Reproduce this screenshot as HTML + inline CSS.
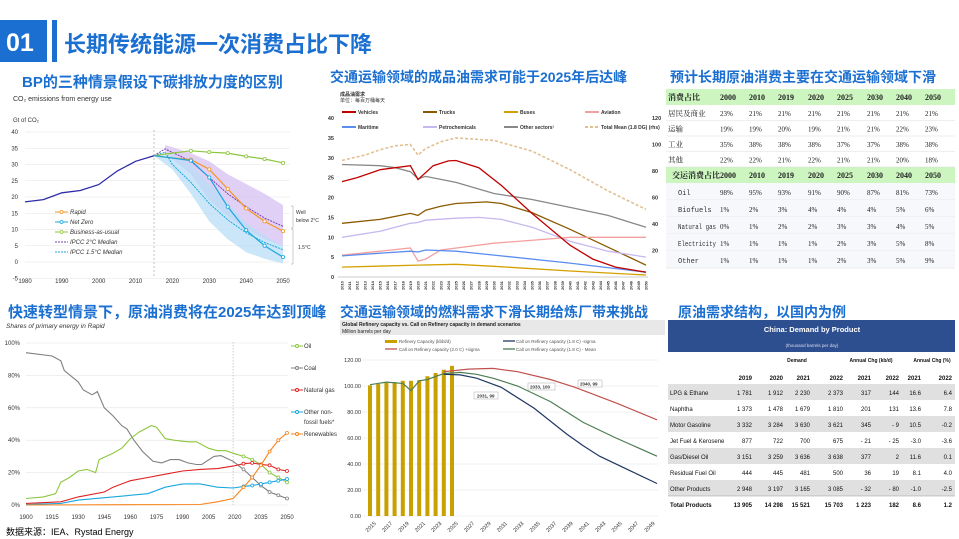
<!DOCTYPE html>
<html><head><meta charset="utf-8">
<style>
body{margin:0;background:#fff;}
svg{display:block;font-family:"Liberation Sans","Noto Sans CJK SC",sans-serif;}
.t{font-weight:bold;fill:#1a6fd0;}
</style></head><body>
<svg id="c" width="959" height="539" viewBox="0 0 959 539" xmlns="http://www.w3.org/2000/svg">
<rect width="959" height="539" fill="#fff"/>
<rect x="0" y="20" width="47" height="42" fill="#1a6fd0"/>
<text x="6" y="51" font-size="25" font-weight="bold" fill="#fff">01</text>
<rect x="52" y="20" width="5" height="42" fill="#1a6fd0"/>
<text x="64" y="52" font-size="22" class="t">长期传统能源一次消费占比下降</text>
<text x="22" y="87" font-size="15" class="t">BP的三种情景假设下碳排放力度的区别</text>
<text x="330" y="82" font-size="14" class="t">交通运输领域的成品油需求可能于2025年后达峰</text>
<text x="670" y="82" font-size="14" class="t">预计长期原油消费主要在交通运输领域下滑</text>
<text x="8" y="317" font-size="15" class="t">快速转型情景下，原油消费将在2025年达到顶峰</text>
<text x="340" y="317" font-size="14" class="t">交通运输领域的燃料需求下滑长期给炼厂带来挑战</text>
<text x="678" y="317" font-size="14" class="t">原油需求结构，以国内为例</text>

<text x="13" y="101" font-size="7" fill="#333">CO₂ emissions from energy use</text>
<text x="13" y="122" font-size="6" fill="#333">Gt of CO₂</text>
<g id="c1grid"></g>
<line x1="154" y1="130" x2="154" y2="278" stroke="#999" stroke-dasharray="2,2" stroke-width="0.6"/>
<g id="c1"></g>
<g font-size="6" font-style="italic" fill="#333">
<line x1="55" y1="212" x2="68" y2="212" stroke="#f7941d"/><circle cx="61.5" cy="212" r="1.5" fill="#fff" stroke="#f7941d" stroke-width="0.8"/><text x="70" y="214">Rapid</text>
<line x1="55" y1="222" x2="68" y2="222" stroke="#1aa7e0"/><circle cx="61.5" cy="222" r="1.5" fill="#fff" stroke="#1aa7e0" stroke-width="0.8"/><text x="70" y="224">Net Zero</text>
<line x1="55" y1="232" x2="68" y2="232" stroke="#8dc63f"/><circle cx="61.5" cy="232" r="1.5" fill="#fff" stroke="#8dc63f" stroke-width="0.8"/><text x="70" y="234">Business-as-usual</text>
<line x1="55" y1="242" x2="68" y2="242" stroke="#7b3fb5" stroke-dasharray="2,1"/><text x="70" y="244">IPCC 2°C Median</text>
<line x1="55" y1="252" x2="68" y2="252" stroke="#1aa7e0" stroke-dasharray="2,1"/><text x="70" y="254">IPCC 1.5°C Median</text>
</g>
<g font-size="5" fill="#333"><text x="296" y="214">Well</text><text x="296" y="222">below 2°C</text><text x="298" y="249">1.5°C</text></g>
<path d="M291 206h2v22h-2M291 229h2v35h-2" fill="none" stroke="#999" stroke-width="0.5"/>

<text x="340" y="96" font-size="5" fill="#333" font-weight="bold">成品油需求</text>
<text x="340" y="102" font-size="5" fill="#333">单位：每百万桶每天</text>
<g id="c2"></g>
<g font-size="5" fill="#333" font-weight="bold">
<line x1="342" y1="112" x2="356" y2="112" stroke="#c00000" stroke-width="2"/><text x="358" y="114">Vehicles</text>
<line x1="423" y1="112" x2="437" y2="112" stroke="#8b5a00" stroke-width="2"/><text x="439" y="114">Trucks</text>
<line x1="504" y1="112" x2="518" y2="112" stroke="#d4a000" stroke-width="2"/><text x="520" y="114">Buses</text>
<line x1="585" y1="112" x2="599" y2="112" stroke="#f4a0a0" stroke-width="2"/><text x="601" y="114">Aviation</text>
<line x1="342" y1="127" x2="356" y2="127" stroke="#5b8def" stroke-width="2"/><text x="358" y="129">Maritime</text>
<line x1="423" y1="127" x2="437" y2="127" stroke="#c8b8f0" stroke-width="2"/><text x="439" y="129">Petrochemicals</text>
<line x1="504" y1="127" x2="518" y2="127" stroke="#888" stroke-width="2"/><text x="520" y="129">Other sectors¹</text>
<line x1="585" y1="127" x2="599" y2="127" stroke="#e0c090" stroke-width="2" stroke-dasharray="3,2"/><text x="601" y="129">Total Mean (1.8 DG) (rhs)</text>
</g>

<g id="t1"></g>

<text x="6" y="328" font-size="6.5" font-style="italic" fill="#333">Shares of primary energy in Rapid</text>
<g id="c3"></g>
<text x="6" y="535" font-size="9" fill="#000">数据来源：IEA、Rystad   Energy</text>

<rect x="340" y="320" width="325" height="15" fill="#e8e8e8"/>
<text x="342" y="326" font-size="5" font-weight="bold" fill="#222">Global Refinery capacity vs. Call on Refinery capacity in demand scenarios</text>
<text x="342" y="333" font-size="5" fill="#222">Million barrels per day</text>
<g id="c4"></g>
<g font-size="4.5" fill="#555">
<rect x="385" y="340" width="12" height="3" fill="#c8a000"/><text x="399" y="343">Refinery Capacity (kbbl/d)</text>
<line x1="503" y1="341" x2="515" y2="341" stroke="#1f3864" stroke-width="1.3"/><text x="516" y="343">Call on Refinery capacity (1.8 C) -sigma</text>
<line x1="385" y1="349" x2="397" y2="349" stroke="#c0504d" stroke-width="1.3"/><text x="399" y="351">Call on Refinery capacity (2.0 C) +sigma</text>
<line x1="503" y1="349" x2="515" y2="349" stroke="#4e7d55" stroke-width="1.3"/><text x="516" y="351">Call on Refinery capacity (1.8 C) - Mean</text>
</g>
<g font-size="4.5" font-weight="bold" fill="#333">
<rect x="474" y="392" width="24" height="7" fill="#fff" stroke="#999" stroke-width="0.4"/><text x="477" y="397.5">2031, 99</text>
<rect x="528" y="383" width="27" height="7" fill="#fff" stroke="#999" stroke-width="0.4"/><text x="530" y="388.5">2033, 100</text>
<rect x="578" y="380" width="24" height="7" fill="#fff" stroke="#999" stroke-width="0.4"/><text x="580" y="385.5">2040, 99</text>
</g>

<rect x="668" y="320" width="287" height="32" fill="#2e4f8f"/>
<text x="812" y="332" font-size="7.5" font-weight="bold" fill="#fff" text-anchor="middle">China: Demand by Product</text>
<text x="812" y="347" font-size="4.5" fill="#dde" text-anchor="middle">(thousand barrels per day)</text>
<g id="t2"></g>
</svg>
<script>
const NS="http://www.w3.org/2000/svg";
function el(p,t,a,txt){const e=document.createElementNS(NS,t);for(const k in a)e.setAttribute(k,a[k]);if(txt!==undefined)e.textContent=txt;document.getElementById(p).appendChild(e);return e;}
function pl(p,pts,fx,fy,a){const d=pts.map((q,i)=>(i?'L':'M')+fx(q[0]).toFixed(1)+' '+fy(q[1]).toFixed(1)).join('');return el(p,'path',Object.assign({d:d,fill:'none'},a));}
function mk(p,pts,fx,fy,col,r){pts.forEach(q=>el(p,'circle',{cx:fx(q[0]),cy:fy(q[1]),r:r||1.6,fill:'#fff',stroke:col,'stroke-width':0.8}));}

{const fx=y=>25+(y-1980)*3.686, fy=v=>262-v*3.25;
for(let v=-5;v<=40;v+=5){el('c1grid','line',{x1:25,x2:290,y1:fy(v),y2:fy(v),stroke:'#e4e4e4','stroke-width':0.6});el('c1grid','text',{x:18,y:fy(v)+2,'font-size':6,fill:'#333','text-anchor':'end'},v);}
for(let y=1980;y<=2050;y+=10)el('c1grid','text',{x:fx(y),y:283,'font-size':6,fill:'#333','text-anchor':'middle'},y);
let up=[[2018,36],[2025,33.5],[2030,31],[2035,27],[2040,24],[2045,21],[2050,17.5]],lo=[[2050,5],[2045,7],[2040,10],[2035,14],[2030,19],[2025,27],[2018,33.5]];
pl('c1',up.concat(lo),fx,fy,{fill:'#d8c4f2',opacity:0.8});
let up2=[[2015,32.7],[2020,33],[2025,30],[2030,24],[2035,18],[2040,12],[2045,8],[2050,5]],lo2=[[2050,-0.5],[2045,1],[2040,3],[2035,7],[2030,12.5],[2025,21],[2020,28.5],[2015,32.7]];
pl('c1',up2.concat(lo2),fx,fy,{fill:'#b8def5',opacity:0.75});
pl('c1',[[1980,18.5],[1985,19.2],[1990,21.3],[1995,22],[2000,23.8],[2005,28],[2010,31],[2015,32.7]],fx,fy,{stroke:'#2e2aa8','stroke-width':1.3});
const bau=[[2015,32.7],[2020,33.5],[2025,34.2],[2030,33.8],[2035,33.5],[2040,32.5],[2045,31.7],[2050,30.5]];
const rap=[[2015,32.7],[2020,32],[2025,31.5],[2030,28.5],[2035,22.5],[2040,16.5],[2045,12.5],[2050,9.5]];
const nz=[[2015,32.7],[2020,32],[2025,31.2],[2030,26],[2035,17],[2040,9.8],[2045,5],[2050,1.5]];
pl('c1',[[2015,32.7],[2018,34.8],[2025,31],[2030,26],[2035,21],[2040,17],[2045,13.5],[2050,11]],fx,fy,{stroke:'#7b3fb5','stroke-width':1,'stroke-dasharray':'2,1'});
pl('c1',[[2015,32.7],[2018,33.8],[2020,30],[2025,24.5],[2030,18],[2035,13],[2040,9],[2045,6],[2050,3.8]],fx,fy,{stroke:'#1aa7e0','stroke-width':1,'stroke-dasharray':'2,1'});
pl('c1',bau,fx,fy,{stroke:'#8dc63f','stroke-width':1.2});mk('c1',bau.slice(2),fx,fy,'#8dc63f');
pl('c1',rap,fx,fy,{stroke:'#f7941d','stroke-width':1.2});mk('c1',rap.slice(2),fx,fy,'#f7941d');
pl('c1',nz,fx,fy,{stroke:'#1aa7e0','stroke-width':1.2});mk('c1',nz.slice(2),fx,fy,'#1aa7e0');
}
{const fx=y=>342+(y-2010)*7.6, fy=v=>277-v*3.975, fr=v=>277-v*1.325;
for(let v=0;v<=40;v+=5)el('c2','text',{x:334,y:fy(v)+2,'font-size':5.5,fill:'#333','font-weight':'bold','text-anchor':'end'},v);
for(let v=20;v<=120;v+=20)el('c2','text',{x:652,y:fr(v)+2,'font-size':5.5,fill:'#333','font-weight':'bold'},v);
el('c2','line',{x1:338,x2:648,y1:277,y2:277,stroke:'#999','stroke-width':0.5});
for(let y=2010;y<=2050;y++)el('c2','text',{x:0,y:0,'font-size':4,fill:'#333','font-weight':'bold',transform:`translate(${fx(y)+1.5},290) rotate(-90)`},y);
const L=(d,c,w,da)=>pl('c2',d,fx,fy,{stroke:c,'stroke-width':w||1.3,'stroke-dasharray':da||'none'});
pl('c2',[[2010,88],[2013,92],[2015,96],[2017,99],[2019,100],[2020,92],[2021,97],[2023,102],[2025,105],[2030,103],[2035,95],[2040,81],[2045,65],[2050,51]],fx,fr,{stroke:'#e0c090','stroke-width':1.6,'stroke-dasharray':'3,2'});
L([[2010,28.3],[2015,28],[2017,27.5],[2019,26.5],[2020,24.7],[2021,25.3],[2025,23.8],[2030,21],[2035,19.5],[2040,17.5],[2045,15.5],[2050,12.5]],'#888');
L([[2010,13.5],[2015,14.5],[2019,16],[2020,15.5],[2021,16.8],[2023,17.8],[2025,18.5],[2029,18.9],[2031,18.5],[2035,16.2],[2040,12],[2045,7.5],[2050,3]],'#8b5a00');
L([[2010,10],[2015,11.5],[2019,13.5],[2020,13.7],[2021,14.3],[2025,14.8],[2028,15],[2031,14.5],[2035,12.5],[2040,9],[2045,6.5],[2050,5]],'#c8b8f0');
L([[2010,5.5],[2015,6.5],[2019,7.3],[2020,4],[2021,4.5],[2023,6.8],[2030,8.5],[2040,10],[2050,10]],'#f4a0a0');
L([[2010,5.3],[2015,6],[2019,6.5],[2020,6.3],[2021,6.8],[2025,6.5],[2030,5.5],[2040,3.5],[2050,1.2]],'#5b8def');
L([[2010,2.5],[2020,3],[2025,3.2],[2030,2.7],[2040,1.5],[2050,0.5]],'#d4a000');
L([[2010,24],[2012,25],[2015,27],[2019,28],[2020,24.5],[2022,28],[2024,29.2],[2025,29.3],[2028,27.5],[2031,23],[2035,16],[2040,8],[2043,4.5],[2046,2.5],[2050,1.2]],'#c00000');
}
{const cols=[720,749,778,808,837,867,896,925];
el('t1','rect',{x:666,y:89,width:289,height:16,fill:'#ccf5c0'});
el('t1','rect',{x:666,y:167,width:289,height:16,fill:'#ccf5c0'});
const h=['2000','2010','2019','2020','2025','2030','2040','2050'];
const tx=(x,y,s,b,f)=>el('t1','text',{x:x,y:y,'font-size':f||8,fill:'#222','font-weight':b?'bold':'normal','font-family':'"Liberation Serif","Noto Serif CJK SC",serif'},s);
tx(668,100,'消费占比',1);h.forEach((s,i)=>tx(cols[i],100,s,1));
const r1=[['居民及商业','23% 21% 21% 21% 21% 21% 21% 21%'],['运输','19% 19% 20% 19% 21% 21% 22% 23%'],['工业','35% 38% 38% 38% 37% 37% 38% 38%'],['其他','22% 22% 21% 22% 21% 21% 20% 18%']];
r1.forEach((r,j)=>{const y=105+j*15.5;el('t1','line',{x1:666,x2:955,y1:y+15.5,y2:y+15.5,stroke:'#ddd','stroke-width':0.5});tx(668,y+11,r[0],0,7.5);r[1].split(' ').forEach((s,i)=>tx(cols[i],y+11,s,0,7));});
tx(672,178,'交运消费占比',1);h.forEach((s,i)=>tx(cols[i],178,s,1));
const r2=[['Oil','98% 95% 93% 91% 90% 87% 81% 73%'],['Biofuels','1% 2% 3% 4% 4% 4% 5% 6%'],['Natural gas','0% 1% 2% 2% 3% 3% 4% 5%'],['Electricity','1% 1% 1% 1% 2% 3% 5% 8%'],['Other','1% 1% 1% 1% 2% 3% 5% 9%']];
r2.forEach((r,j)=>{const y=183+j*17;el('t1','rect',{x:666,y:y,width:289,height:17,fill:'#f6f8fc'});el('t1','line',{x1:666,x2:955,y1:y+17,y2:y+17,stroke:'#ddd','stroke-width':0.5});
const a={x:678,y:y+12,'font-size':7,fill:'#333','font-family':'"Liberation Mono",monospace'};if(r[0].length>8){a.textLength=38;a.lengthAdjust='spacingAndGlyphs';}
el('t1','text',a,r[0]);r[1].split(' ').forEach((s,i)=>tx(cols[i],y+12,s,0,7));});
}
{const fx=y=>26+(y-1900)*1.74, fy=v=>505-v*1.62;
for(let v=0;v<=100;v+=20){el('c3','line',{x1:26,x2:288,y1:fy(v),y2:fy(v),stroke:'#e6e6e6','stroke-width':0.6});el('c3','text',{x:20,y:fy(v)+2,'font-size':6,fill:'#333','text-anchor':'end'},v+'%');}
for(let y=1900;y<=2050;y+=15)el('c3','text',{x:fx(y),y:519,'font-size':6,fill:'#333','text-anchor':'middle'},y);
el('c3','line',{x1:fx(2019),x2:fx(2019),y1:342,y2:505,stroke:'#aaa','stroke-dasharray':'1.5,1.5','stroke-width':0.6});
const S=[
['#808080',[[1900,94],[1915,92],[1920,89],[1922,83],[1930,76],[1933,71],[1938,68],[1941,70],[1945,60],[1950,55],[1955,49],[1958,47],[1962,40],[1967,33],[1973,27],[1978,26],[1983,28],[1988,28],[1993,26],[1998,25],[2001,25],[2008,30],[2012,30.5],[2019,27],[2025,22],[2030,17],[2035,12],[2040,8],[2045,6],[2050,4]]],
['#8dc63f',[[1900,4],[1910,5],[1917,7],[1920,14],[1925,17],[1930,21],[1935,22],[1940,20],[1942,28],[1950,32],[1955,35],[1960,41],[1965,45],[1972,49],[1975,48],[1980,41],[1985,40],[1993,39],[1998,39],[2005,35],[2010,33.5],[2015,33.5],[2019,32],[2025,30],[2030,28],[2035,25],[2040,20],[2045,17],[2050,14]]],
['#e02020',[[1900,1],[1920,2],[1930,5],[1945,8],[1950,11],[1960,15],[1970,17],[1980,19],[1990,21],[2000,22],[2010,22.5],[2019,24],[2025,25.5],[2030,26],[2035,25],[2040,24.5],[2045,22],[2050,21]]],
['#1aa7e0',[[1900,0.3],[1920,1],[1930,3],[1950,5],[1970,7],[1980,11],[1990,13],[2000,13],[2010,11],[2019,10.5],[2025,11.5],[2030,12],[2035,13],[2040,14],[2045,15],[2050,16]]],
['#f7841d',[[1900,0],[2000,0.3],[2010,2],[2019,4],[2025,11],[2030,17],[2035,24.5],[2040,33],[2045,40],[2050,44.5]]]];
S.forEach(s=>{pl('c3',s[1],fx,fy,{stroke:s[0],'stroke-width':1.1});mk('c3',s[1].filter(q=>q[0]>=2025),fx,fy,s[0],1.5);});
const lg=[['#8dc63f','Oil',346],['#808080','Coal',368],['#e02020','Natural gas',390],['#1aa7e0','Other non-',412],['#f7841d','Renewables',434]];
lg.forEach(l=>{el('c3','line',{x1:291,x2:303,y1:l[2],y2:l[2],stroke:l[0]});el('c3','circle',{cx:297,cy:l[2],r:1.5,fill:'#fff',stroke:l[0]});el('c3','text',{x:304,y:l[2]+2,'font-size':6,fill:'#333'},l[1]);});
el('c3','text',{x:304,y:424,'font-size':6,fill:'#333'},'fossil fuels*');
}
{const fx=y=>370+(y-2015)*8.2, fy=v=>516-v*1.3;
for(let v=0;v<=120;v+=20){el('c4','line',{x1:362,x2:658,y1:fy(v),y2:fy(v),stroke:'#e0e0e0','stroke-width':0.5});el('c4','text',{x:361,y:fy(v)+2,'font-size':5.5,fill:'#333','text-anchor':'end'},v.toFixed(2));}
const bars=[100.5,101.5,102.5,103,104,104,104.5,107.5,110,112.5,115.5];
bars.forEach((b,i)=>el('c4','rect',{x:fx(2015+i)-2,y:fy(b),width:4,height:b*1.3,fill:'#c8a000'}));
for(let y=2015;y<=2049;y+=2)el('c4','text',{x:0,y:0,'font-size':5.5,fill:'#333',transform:`translate(${fx(y)+2},528) rotate(-45)`,'text-anchor':'middle'},y);
pl('c4',[[2024,111],[2027,113],[2030,113.5],[2033,111],[2037,105],[2040,99],[2045,87],[2050,74]],fx,fy,{stroke:'#c0504d','stroke-width':1.2});
pl('c4',[[2015,101],[2017,103],[2019,102],[2020,96.5],[2021,104],[2022,105],[2024,109.5],[2026,110.5],[2028,109],[2030,106],[2033,100],[2037,88],[2041,72],[2045,60],[2050,46]],fx,fy,{stroke:'#4e7d55','stroke-width':1.2});
pl('c4',[[2024,109],[2026,108.5],[2028,106],[2031,99],[2035,83],[2039,63],[2041,54],[2043,46],[2047,34],[2050,25]],fx,fy,{stroke:'#1f3864','stroke-width':1.2});
}
{const R=[752,783,810,843,871,899,921,952];
const tx=(x,y,s,b,a,f)=>el('t2','text',{x:x,y:y,'font-size':f||6,fill:'#111','font-weight':b?'bold':'normal','text-anchor':a||'start'},s);
tx(797,362,'Demand',1,'middle',5);tx(871,362,'Annual Chg (kb/d)',1,'middle',5);tx(932,362,'Annual Chg (%)',1,'middle',5);
['2019','2020','2021','2022','2021','2022','2021','2022'].forEach((s,i)=>tx(R[i],380,s,1,'end'));
const rows=[['LPG & Ethane','1 781','1 912','2 230','2 373','317','144','16.6','6.4'],['Naphtha','1 373','1 478','1 679','1 810','201','131','13.6','7.8'],['Motor Gasoline','3 332','3 284','3 630','3 621','345','- 9','10.5','-0.2'],['Jet Fuel & Kerosene','877','722','700','675','- 21','- 25','-3.0','-3.6'],['Gas/Diesel Oil','3 151','3 259','3 636','3 638','377','2','11.6','0.1'],['Residual Fuel Oil','444','445','481','500','36','19','8.1','4.0'],['Other Products','2 948','3 197','3 165','3 085','- 32','- 80','-1.0','-2.5'],['Total Products','13 905','14 298','15 521','15 703','1 223','182','8.6','1.2']];
rows.forEach((r,j)=>{const y=384+j*16;if(j%2==0&&j<7)el('t2','rect',{x:668,y:y,width:287,height:16,fill:'#e0e0e0'});
const b=j==7;tx(670,y+11,r[0],b);for(let i=0;i<8;i++)tx(R[i],y+11,r[i+1],b,'end');});
el('t2','line',{x1:668,x2:955,y1:496,y2:496,stroke:'#999','stroke-width':0.5});
}
</script>
</body></html>
